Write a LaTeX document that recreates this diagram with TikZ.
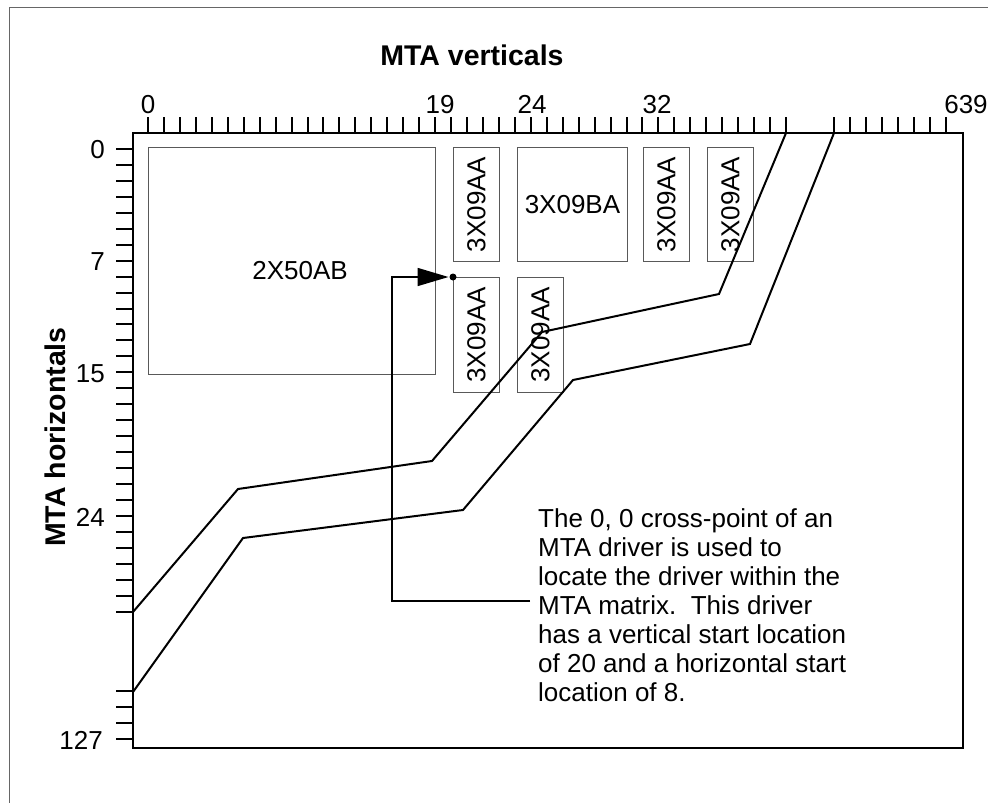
\documentclass[tikz,border=0pt]{standalone}
\usepackage{fontspec}
\setmainfont{Liberation Sans}
\usetikzlibrary{arrows.meta}
\tikzset{
  heavy/.style={draw=black, line width=2pt},
  modbox/.style={draw=black!65, line width=0.9pt, inner sep=0pt, anchor=north west},
  txt/.style={font=\fontsize{26}{29}\selectfont, inner sep=0pt},
  titletxt/.style={font=\fontsize{28.5}{32}\selectfont\bfseries, inner sep=0pt},
}
\begin{document}
\begin{tikzpicture}[x=1pt,y=-1pt]
\useasboundingbox (0,0) rectangle (988,803);
% outer border (only top and left visible)
\draw[black!60, line width=1pt] (9,810) -- (9,7) -- (995,7);
% matrix frame
\draw[heavy] (133,133) rectangle (963,748);
% top ruler ticks
\foreach \i in {0,...,40,43,44,...,50}
  \draw[heavy] ({148+15.95*\i},117) -- ({148+15.95*\i},133);
% left ruler ticks
\foreach \i in {0,...,29,34,35,36,37}
  \draw[heavy] (116,{149+15.95*\i}) -- (133,{149+15.95*\i});
% titles
\node[titletxt] (vt) at (472,55) {MTA verticals};
\node[titletxt, rotate=90] (ht) at (55,437) {MTA horizontals};
% top labels
\node[txt, anchor=base] (v0) at (148,113) {0};
\node[txt, anchor=base] (v19) at (440,113) {19};
\node[txt, anchor=base] (v24) at (532,113) {24};
\node[txt, anchor=base] (v32) at (657,113) {32};
\node[txt, anchor=base] (v639) at (966,113) {639};
% left labels
\node[txt, anchor=base east] (h0) at (105,158) {0};
\node[txt, anchor=base east] (h7) at (105,270) {7};
\node[txt, anchor=base east] (h15) at (105,382) {15};
\node[txt, anchor=base east] (h24) at (105,526) {24};
\node[txt, anchor=base east] (h127) at (103,749) {127};
% modules
\node[modbox, minimum width=287, minimum height=227] (m1) at (148,147) {};
\node[txt] (m1t) at (300,271) {2X50AB};
\node[modbox, minimum width=46, minimum height=114] (m2) at (453,147) {};
\node[txt, rotate=90] (m2t) at (m2.center) {3X09AA};
\node[modbox, minimum width=110, minimum height=114] (m3) at (517,147) {};
\node[txt] (m3t) at (m3.center) {3X09BA};
\node[modbox, minimum width=46, minimum height=114] (m4) at (643,147) {};
\node[txt, rotate=90] (m4t) at (m4.center) {3X09AA};
\node[modbox, minimum width=46, minimum height=114] (m5) at (707,147) {};
\node[txt, rotate=90] (m5t) at (m5.center) {3X09AA};
\node[modbox, minimum width=46, minimum height=115] (m6) at (453,277) {};
\node[txt, rotate=90] (m6t) at (m6.center) {3X09AA};
\node[modbox, minimum width=46, minimum height=115] (m7) at (517,277) {};
\node[txt, rotate=90] (m7t) at (m7.center) {3X09AA};
% cable band
\draw[heavy, line join=miter] (133,612) -- (238,489) -- (432,461) -- (542,332) -- (719,294) -- (786,133);
\draw[heavy, line join=miter] (133,692) -- (243,538) -- (463,510) -- (573,380) -- (750,344) -- (834,133);
% note
\node[txt, align=left, anchor=north west] (note) at (538,508)
  {The 0, 0 cross-point of an\\
   MTA driver is used to\\
   locate the driver within the\\
   MTA matrix.\ \ This driver\\
   has a vertical start location\\
   of 20 and a horizontal start\\
   location of 8.};
\coordinate (lead) at (530,601);
\coordinate (org) at (453,277);
\fill (org) circle (3.5);
\draw[line width=1.6pt, -{Triangle[length=31pt,width=18pt]}, shorten >=4.5pt]
  (lead) -- (392,601) |- (org);
\end{tikzpicture}
\end{document}
